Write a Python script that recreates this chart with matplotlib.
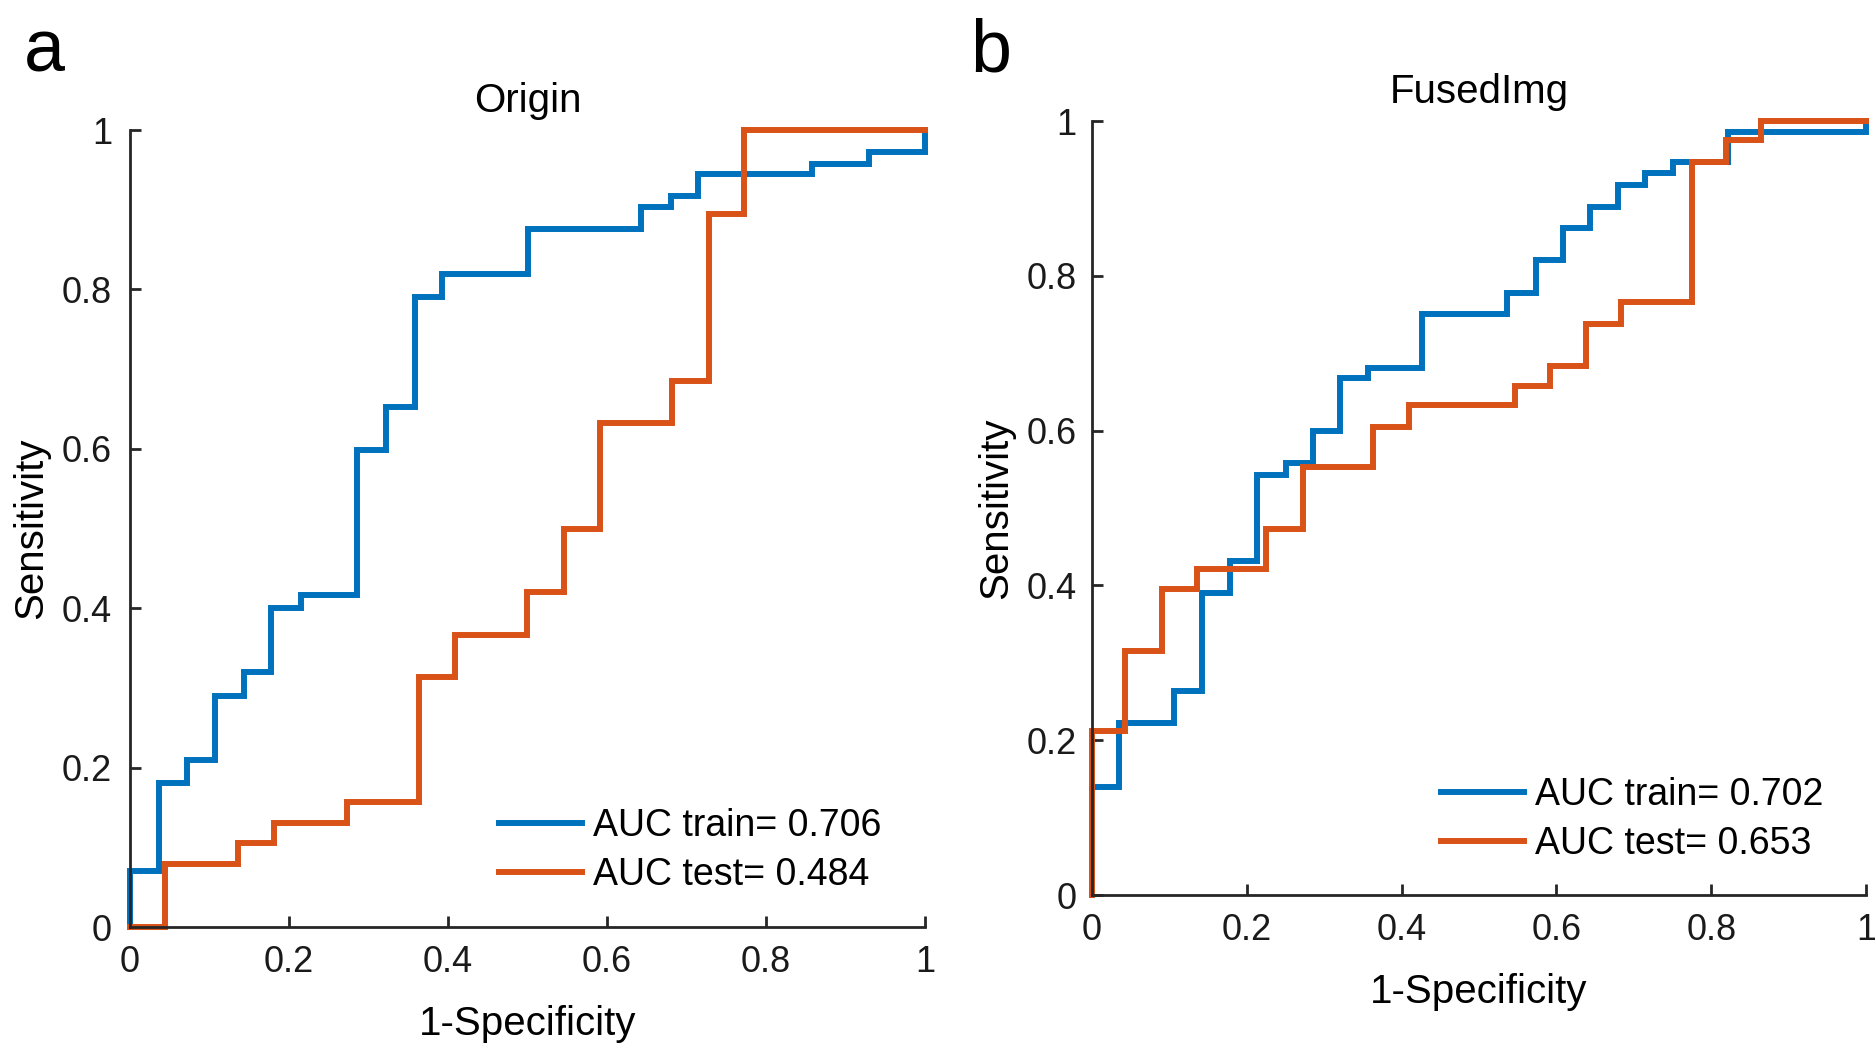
import matplotlib
matplotlib.use("Agg")
import matplotlib.pyplot as plt

plt.rcParams['font.family'] = ['Liberation Sans', 'DejaVu Sans']

# ROC step data (x = 1-specificity where sensitivity jumps, y = new sensitivity)
origin_train_fpr = [0, 0, 0.036, 0.072, 0.107, 0.143, 0.178, 0.215, 0.285, 0.322, 0.358,
                    0.392, 0.501, 0.643, 0.680, 0.715, 0.858, 0.930, 1.0]
origin_train_tpr = [0, 0.070, 0.181, 0.210, 0.290, 0.320, 0.400, 0.416, 0.598, 0.653, 0.790,
                    0.819, 0.876, 0.904, 0.917, 0.945, 0.958, 0.973, 1.0]

origin_test_fpr = [0, 0.044, 0.136, 0.181, 0.273, 0.364, 0.409, 0.500, 0.546, 0.591, 0.682,
                   0.728, 0.773, 1.0]
origin_test_tpr = [0, 0.079, 0.106, 0.131, 0.157, 0.314, 0.367, 0.420, 0.500, 0.632, 0.685,
                   0.895, 1.0, 1.0]

fused_train_fpr = [0, 0, 0.035, 0.106, 0.142, 0.178, 0.213, 0.250, 0.285, 0.320, 0.356,
                   0.427, 0.536, 0.573, 0.608, 0.644, 0.679, 0.714, 0.750, 0.822, 1.0]
fused_train_tpr = [0, 0.139, 0.222, 0.264, 0.390, 0.431, 0.543, 0.558, 0.599, 0.668, 0.681,
                   0.751, 0.778, 0.821, 0.862, 0.889, 0.918, 0.933, 0.947, 0.986, 1.0]

fused_test_fpr = [0, 0, 0.043, 0.090, 0.136, 0.225, 0.272, 0.363, 0.409, 0.546, 0.592,
                  0.638, 0.683, 0.775, 0.819, 0.864, 1.0]
fused_test_tpr = [0, 0.212, 0.315, 0.395, 0.421, 0.473, 0.553, 0.605, 0.633, 0.658, 0.684,
                  0.738, 0.766, 0.947, 0.976, 1.0, 1.0]

ticks = [0, 0.2, 0.4, 0.6, 0.8, 1]
tick_labels = ['0', '0.2', '0.4', '0.6', '0.8', '1']

blue = '#0072BD'
orange = '#D95319'
axis_color = '#262626'

fig = plt.figure(figsize=(18.75, 10.52), dpi=100)
ax1 = fig.add_axes([0.0693, 0.1188, 0.424, 0.7576])
ax2 = fig.add_axes([0.5824, 0.1492, 0.4128, 0.7357])


def style_axis(ax, title, auc_train, auc_test, train, test, ypad, legend_anchor):
    ax.step(train[0], train[1], where='post', color=blue, lw=4.3, clip_on=False,
            solid_joinstyle='miter', label=f'AUC train= {auc_train}')
    ax.step(test[0], test[1], where='post', color=orange, lw=4.3, clip_on=False,
            solid_joinstyle='miter', label=f'AUC test= {auc_test}')
    ax.set_xlim(0, 1)
    ax.set_ylim(0, 1)
    ax.set_xticks(ticks)
    ax.set_xticklabels(tick_labels)
    ax.set_yticks(ticks)
    ax.set_yticklabels(tick_labels)
    for s in ['top', 'right']:
        ax.spines[s].set_visible(False)
    for s in ['left', 'bottom']:
        ax.spines[s].set_linewidth(2)
        ax.spines[s].set_color(axis_color)
    ax.tick_params(direction='in', length=8, width=2, color=axis_color,
                   labelsize=26, labelcolor='#1a1a1a')
    ax.tick_params(axis='x', pad=13)
    ax.tick_params(axis='y', pad=ypad)
    ax.set_title(title, fontsize=29, pad=13)
    ax.set_xlabel('1-Specificity', fontsize=29, labelpad=18)
    ax.set_ylabel('Sensitivity', fontsize=29, labelpad=8)
    ax.legend(loc='lower right', bbox_to_anchor=legend_anchor, frameon=False, fontsize=27,
              handlelength=2.2, handletextpad=0.3, labelspacing=0.33,
              borderpad=0, borderaxespad=0)


style_axis(ax1, 'Origin', '0.706', '0.484',
           (origin_train_fpr, origin_train_tpr), (origin_test_fpr, origin_test_tpr),
           13, (0.945, 0.043))
style_axis(ax2, 'FusedImg', '0.702', '0.653',
           (fused_train_fpr, fused_train_tpr), (fused_test_fpr, fused_test_tpr),
           11, (0.945, 0.043))

fig.text(24 / 1875, 1 - 71 / 1052, 'a', fontsize=53, va='baseline', ha='left')
fig.text(970 / 1875, 1 - 71 / 1052, 'b', fontsize=53, va='baseline', ha='left')

fig.savefig('out.png', dpi=100, facecolor='white')
